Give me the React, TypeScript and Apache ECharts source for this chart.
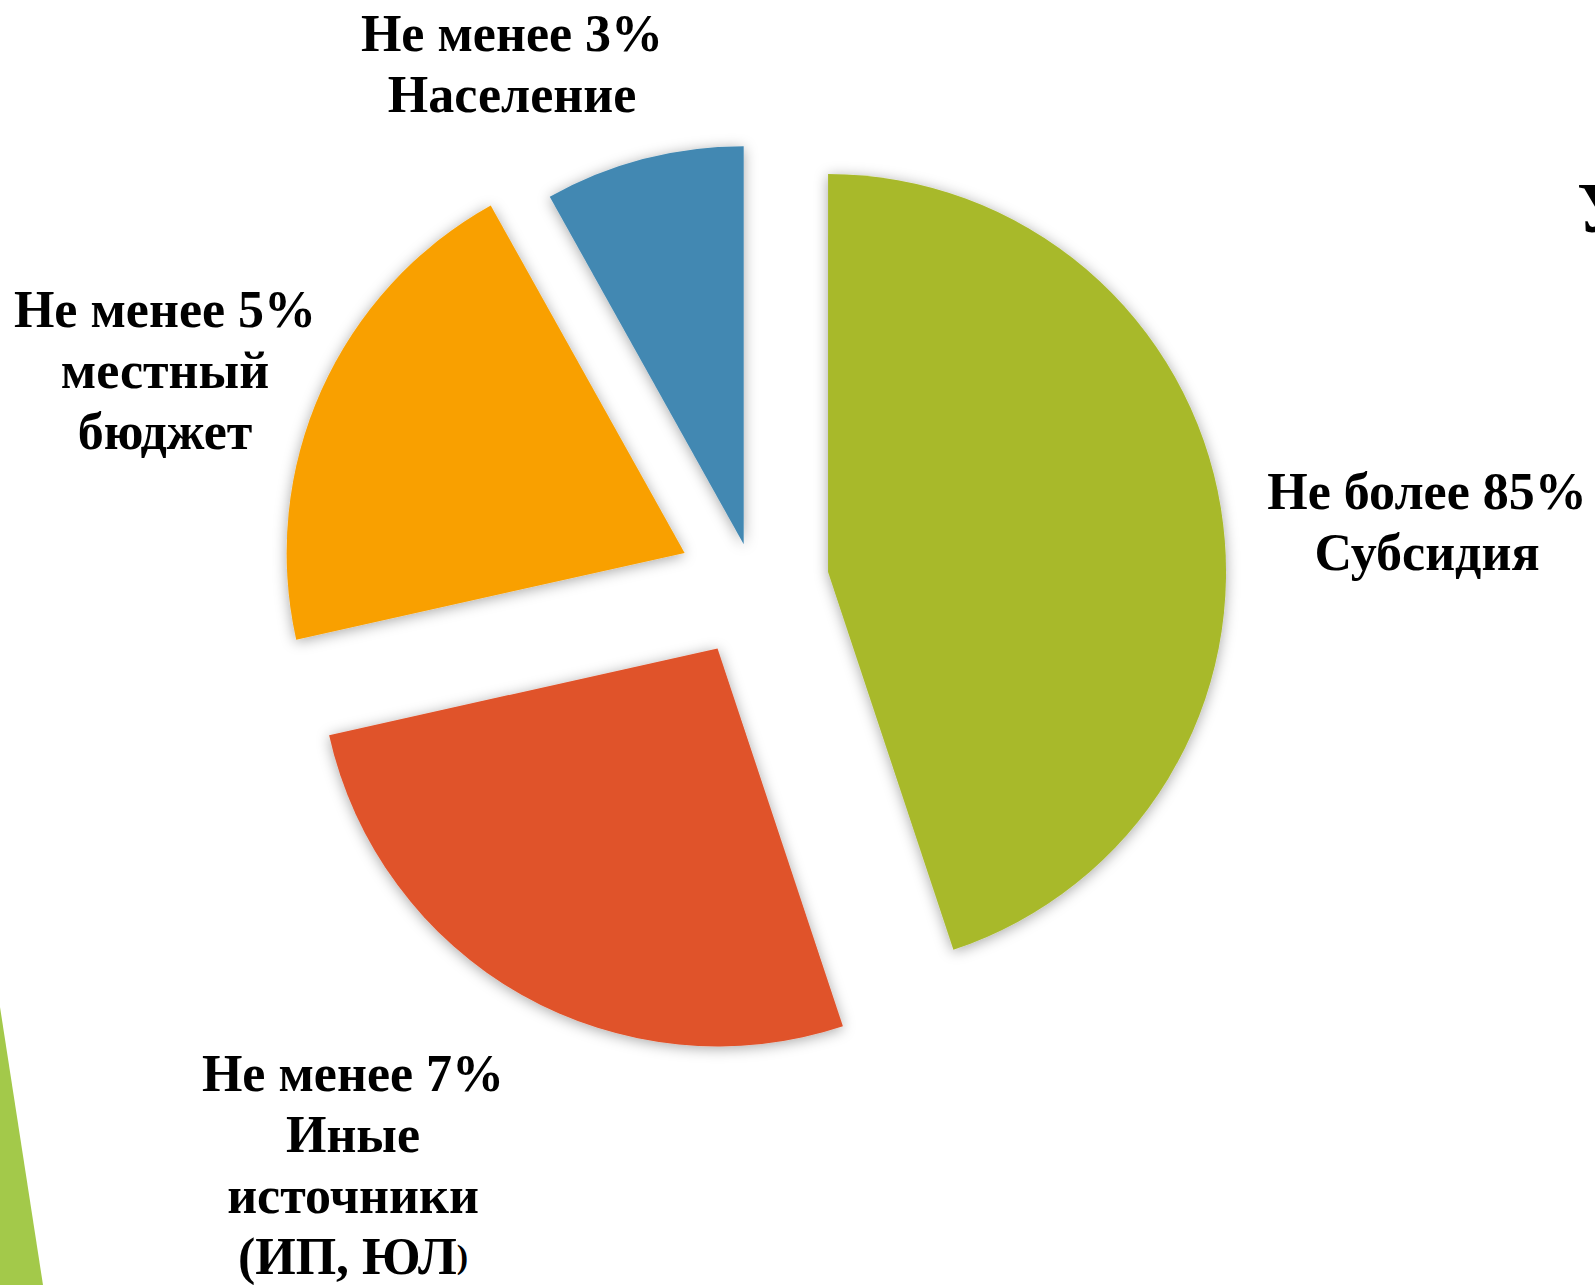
import React, { useEffect, useRef } from "react";
import * as echarts from "echarts";

// ---- data ----
const categories = ["Субсидия", "Иные источники (ИП, ЮЛ)", "Местный бюджет", "Население"];
const shares = [44.9, 26.6, 20.4, 8.1];
const labelTexts = [
  "Не более 85%\nСубсидия",
  "Не менее 7%\nИные\nисточники\n(ИП, ЮЛ{s|)}",
  "Не менее 5%\nместный\nбюджет",
  "Не менее 3%\nНаселение",
];
const colors = ["#A8B92B", "#E0522A", "#F9A000", "#4288B2"];
const explodeOffsets = [75, 74, 76, 41];
const labelAnchors = [
  [1427, 522],
  [353, 1165],
  [165, 370],
  [512, 64],
];

const FONT = '"Liberation Serif", "Times New Roman", serif';

export default function App() {
  const ref = useRef<HTMLDivElement>(null);

  useEffect(() => {
    if (!ref.current) return;
    const chart = echarts.init(ref.current, null, { renderer: "svg" });

    const offsetGroups = Array.from(new Set(explodeOffsets));
    const series = offsetGroups.map((off) => ({
      type: "pie",
      center: [754, 584],
      radius: 398,
      startAngle: 90,
      clockwise: true,
      silent: true,
      selectedMode: "multiple",
      selectedOffset: off,
      avoidLabelOverlap: false,
      emphasis: { disabled: true },
      select: { itemStyle: { borderWidth: 0 } },
      label: { show: false },
      labelLine: { show: false },
      data: categories.map((name, i) => {
        const visible = explodeOffsets[i] === off;
        return {
          name,
          value: shares[i],
          selected: true,
          itemStyle: visible
            ? {
                color: colors[i],
                shadowBlur: 14,
                shadowColor: "rgba(0,0,0,0.35)",
                shadowOffsetX: 0,
                shadowOffsetY: 2,
              }
            : { color: "rgba(0,0,0,0)", opacity: 0, shadowBlur: 0 },
        };
      }),
    }));

    const labelGraphics = labelTexts.map((text, i) => ({
      type: "text",
      x: labelAnchors[i][0],
      y: labelAnchors[i][1],
      silent: true,
      style: {
        text,
        fill: "#000",
        fontFamily: FONT,
        fontWeight: "bold",
        fontSize: 52,
        lineHeight: 61,
        align: "center",
        verticalAlign: "middle",
        rich: {
          s: {
            fill: "#000",
            fontFamily: FONT,
            fontWeight: "bold",
            fontSize: 34,
            lineHeight: 61,
          },
        },
      },
    }));

    chart.setOption({
      animation: false,
      backgroundColor: "#ffffff",
      graphic: [
        {
          type: "polygon",
          shape: { points: [[0, 1007], [43, 1285], [0, 1285]] },
          style: { fill: "#A3C94A" },
          silent: true,
        },
        {
          type: "text",
          x: 1577,
          y: 208,
          silent: true,
          style: {
            text: "У",
            fill: "#000",
            fontFamily: FONT,
            fontWeight: "bold",
            fontSize: 72,
            align: "left",
            verticalAlign: "middle",
          },
        },
        ...labelGraphics,
      ],
      series,
    } as any);

    return () => chart.dispose();
  }, []);

  return (
    <div
      ref={ref}
      style={{ position: "fixed", left: 0, top: 0, width: 1595, height: 1285, background: "#fff" }}
    />
  );
}
